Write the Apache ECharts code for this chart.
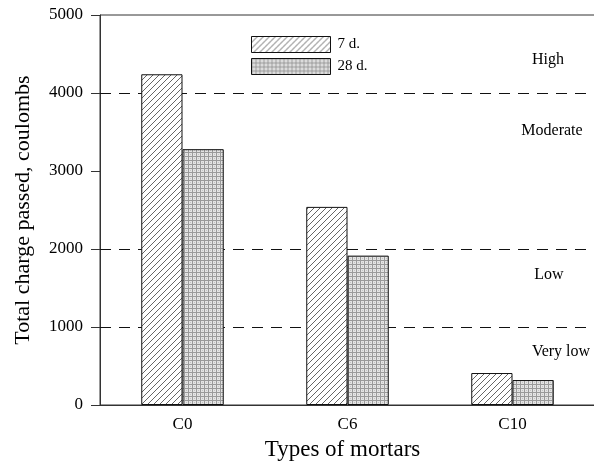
<!DOCTYPE html>
<html>
<head>
<meta charset="utf-8">
<script src="https://cdn.jsdelivr.net/npm/echarts@6/dist/echarts.min.js"></script>
<style>
  html, body { margin: 0; padding: 0; background: #fff; }
  #chart { width: 594px; height: 463px; }
</style>
</head>
<body>
<div id="chart"></div>
<script>
// Rapid chloride permeability: total charge passed per mortar type
const categories = ['C0', 'C6', 'C10'];
const charge7d = [4240, 2540, 410];
const charge28d = [3280, 1915, 320];
const seriesNames = ['7 d.', '28 d.'];

// Permeability class boundaries and the classes between them
const classBoundaries = [1000, 2000, 4000];
const classNames = ['Very low', 'Low', 'Moderate', 'High'];
const classLabelValues = [680, 1670, 3520, 4430];

const FONT = "'Liberation Serif', 'Times New Roman', serif";
const INK = '#333';

// Diagonal "/" hatch fill
function hatchPattern() {
  const s = 6;
  const c = document.createElement('canvas');
  c.width = s; c.height = s;
  const g = c.getContext('2d');
  g.fillStyle = '#fff';
  g.fillRect(0, 0, s, s);
  g.strokeStyle = '#666';
  g.lineWidth = 1;
  g.beginPath();
  g.moveTo(-1, s + 1); g.lineTo(s + 1, -1);
  g.moveTo(-1, 1); g.lineTo(1, -1);
  g.moveTo(s - 1, s + 1); g.lineTo(s + 1, s - 1);
  g.stroke();
  return c;
}

// Fine stipple grid fill
function stipplePattern() {
  const s = 4;
  const c = document.createElement('canvas');
  c.width = s; c.height = s;
  const g = c.getContext('2d');
  g.fillStyle = '#e4e4e4';
  g.fillRect(0, 0, s, s);
  g.fillStyle = '#9a9a9a';
  g.fillRect(0, 0, 1, s);
  g.fillRect(0, 0, s, 1);
  g.fillStyle = '#c4c4c4';
  g.fillRect(2, 2, 1, 1);
  return c;
}

const chart = echarts.init(document.getElementById('chart'), null, { renderer: 'canvas' });

const barStyle = (pattern) => ({
  color: { image: pattern, repeat: 'repeat' },
  borderColor: '#111',
  borderWidth: 1
});

chart.setOption({
  animation: false,
  backgroundColor: '#fff',
  textStyle: { fontFamily: FONT, color: '#000' },
  grid: {
    left: 100, top: 15, width: 495, height: 390,
    outerBoundsMode: 'none',
    containLabel: false,
    show: true, borderColor: INK, borderWidth: 1, backgroundColor: 'transparent'
  },
  legend: {
    orient: 'vertical',
    left: 251, top: 36,
    padding: 0,
    itemWidth: 79, itemHeight: 16, itemGap: 5,
    icon: 'rect',
    itemStyle: { borderColor: '#111', borderWidth: 1 },
    textStyle: { fontFamily: FONT, fontSize: 15, color: '#000', padding: [0, 0, 0, 2] },
    data: seriesNames
  },
  xAxis: {
    type: 'category',
    data: categories,
    axisLine: { lineStyle: { color: INK, width: 1 } },
    axisTick: { show: false },
    axisLabel: { fontFamily: FONT, fontSize: 17, color: '#000', margin: 11 },
    name: 'Types of mortars',
    nameLocation: 'middle',
    nameGap: 33,
    nameTextStyle: { fontFamily: FONT, fontSize: 23, color: '#000', padding: [0, 10, 0, 0] }
  },
  yAxis: {
    type: 'value',
    min: 0, max: 5000, interval: 1000,
    axisLine: { show: true, lineStyle: { color: INK, width: 1 } },
    axisTick: { show: true, inside: false, length: 9, lineStyle: { color: INK } },
    axisLabel: { fontFamily: FONT, fontSize: 17, color: '#000', margin: 17, formatter: v => String(v) },
    splitLine: { show: false },
    name: 'Total charge passed, coulombs',
    nameLocation: 'middle',
    nameGap: 66,
    nameTextStyle: { fontFamily: FONT, fontSize: 22, color: '#000' }
  },
  series: [
    {
      name: seriesNames[0],
      type: 'bar',
      data: charge7d,
      barWidth: '25%',
      barGap: '0%',
      itemStyle: barStyle(hatchPattern()),
      z: 3,
      markLine: {
        silent: true,
        symbol: 'none',
        z: 1,
        label: { show: false },
        lineStyle: { color: '#111', type: [11, 8], width: 1 },
        emphasis: { disabled: true },
        data: classBoundaries.map(v => ({ yAxis: v }))
      }
    },
    {
      name: seriesNames[1],
      type: 'bar',
      data: charge28d,
      barWidth: '25%',
      barGap: '0%',
      itemStyle: barStyle(stipplePattern()),
      z: 3
    }
  ]
});

// Class names along the right side, placed at their charge levels
const classLabelX = [561, 549, 552, 548];
chart.setOption({
  graphic: classNames.map((name, i) => ({
    type: 'text',
    x: classLabelX[i],
    y: chart.convertToPixel({ yAxisIndex: 0 }, classLabelValues[i]),
    silent: true,
    style: {
      text: name,
      fontFamily: FONT,
      fontSize: 16,
      fill: '#000',
      align: 'center',
      verticalAlign: 'middle'
    }
  }))
});
</script>
</body>
</html>
